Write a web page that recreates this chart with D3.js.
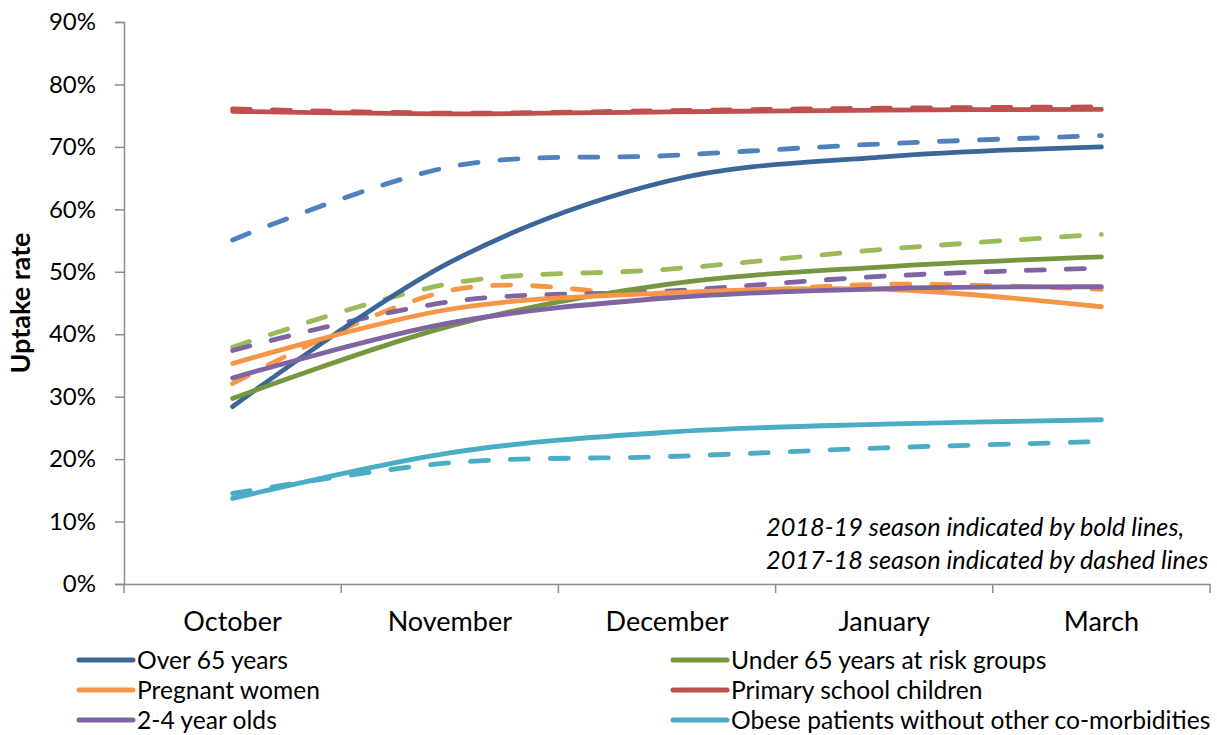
<!DOCTYPE html>
<html>
<head>
<meta charset="utf-8">
<script src="https://cdn.jsdelivr.net/npm/d3@7"></script>
<style>
  html, body { margin: 0; padding: 0; background: #fff; }
  svg { display: block; }
  text { font-family: Lato, "Open Sans", sans-serif; fill: #000; }
</style>
</head>
<body>
<svg id="chart" width="1217" height="735"></svg>
<script>
// ---------- data ----------
const months = ["October", "November", "December", "January", "March"];
const yTicks = [0, 0.1, 0.2, 0.3, 0.4, 0.5, 0.6, 0.7, 0.8, 0.9];

const seriesNames = [
  "Over 65 years",
  "Under 65 years at risk groups",
  "Pregnant women",
  "Primary school children",
  "2-4 year olds",
  "Obese patients without other co-morbidities"
];

// 2018-19 season (bold lines), percent
const over65_1819   = [28.4, 51.5, 64.5, 68.4, 70.0];
const under65_1819  = [29.7, 41.3, 48.0, 50.8, 52.4];
const pregnant_1819 = [35.3, 44.0, 46.6, 47.2, 44.4];
const primary_1819  = [75.7, 75.3, 75.6, 75.9, 76.0];
const toddler_1819  = [33.0, 41.8, 45.8, 47.3, 47.6];
const obese_1819    = [13.7, 21.0, 24.3, 25.6, 26.3];

// 2017-18 season (dashed lines), percent
const over65_1718   = [55.1, 66.8, 68.6, 70.5, 71.8];
const under65_1718  = [37.9, 48.1, 50.4, 53.6, 56.0];
const pregnant_1718 = [32.1, 47.0, 46.3, 48.0, 47.2];
const primary_1718  = [76.1, 75.4, 75.8, 76.2, 76.4];
const toddler_1718  = [37.4, 45.2, 46.9, 49.3, 50.6];
const obese_1718    = [14.5, 19.4, 20.4, 21.8, 22.8];

const boldColors   = ["#3b6698", "#779640", "#f79646", "#c0504d", "#8064a2", "#4bacc6"];
const dashedColors = ["#4f81bd", "#9bbb59", "#f79646", "#c0504d", "#8064a2", "#4bacc6"];

const bold   = [over65_1819, under65_1819, pregnant_1819, primary_1819, toddler_1819, obese_1819];
const dashed = [over65_1718, under65_1718, pregnant_1718, primary_1718, toddler_1718, obese_1718];

// ---------- layout ----------
const svg = d3.select("#chart");
const mLeft = 124, mRight = 1210, mTop = 22, mBottom = 584;

const x = d3.scaleBand().domain(months).range([mLeft, mRight]).padding(0);
const xc = m => x(m) + x.bandwidth() / 2;
const y = d3.scaleLinear().domain([0, 0.9]).range([mBottom, mTop]);

const axisColor = "#8c8c8c";

// y axis
const yAxis = svg.append("g")
  .attr("transform", `translate(${mLeft},0)`)
  .call(d3.axisLeft(y).tickValues(yTicks).tickFormat(d3.format(".0%")).tickSize(9).tickPadding(19));
yAxis.select(".domain").attr("stroke", axisColor).attr("stroke-width", 1.5);
yAxis.selectAll(".tick line").attr("stroke", axisColor).attr("stroke-width", 1.5);
yAxis.selectAll(".tick text").attr("font-size", 24).attr("font-family", "Lato, sans-serif").attr("fill", "#000");

// x axis
const xAxis = svg.append("g")
  .attr("transform", `translate(0,${mBottom})`)
  .call(d3.axisBottom(x).tickSize(0).tickPadding(28));
xAxis.select(".domain").attr("stroke", axisColor).attr("stroke-width", 1.5);
xAxis.selectAll(".tick text").attr("font-size", 27).attr("font-family", "Lato, sans-serif").attr("fill", "#000");
const bounds = months.map(m => x(m)).concat([x(months[months.length - 1]) + x.bandwidth()]);
xAxis.selectAll("line.bound").data(bounds).enter().append("line")
  .attr("class", "bound")
  .attr("x1", d => d).attr("x2", d => d)
  .attr("y1", 0).attr("y2", 9)
  .attr("stroke", axisColor).attr("stroke-width", 1.5);

// axis title
svg.append("text")
  .attr("transform", `translate(30,303) rotate(-90)`)
  .attr("text-anchor", "middle")
  .attr("font-size", 27)
  .attr("font-weight", "bold")
  .text("Uptake rate");

// lines
const line = d3.line()
  .x((d, i) => xc(months[i]))
  .y(d => y(d / 100))
  .curve(d3.curveCatmullRom.alpha(0));

const plot = svg.append("g");
plot.selectAll("path.dashed").data(dashed).enter().append("path")
  .attr("class", "dashed")
  .attr("d", d => line(d))
  .attr("fill", "none")
  .attr("stroke", (d, i) => dashedColors[i])
  .attr("stroke-width", 4.8)
  .attr("stroke-linecap", "round")
  .attr("stroke-dasharray", "18,22");

plot.selectAll("path.bold").data(bold).enter().append("path")
  .attr("class", "bold")
  .attr("d", d => line(d))
  .attr("fill", "none")
  .attr("stroke", (d, i) => boldColors[i])
  .attr("stroke-width", 4.8)
  .attr("stroke-linecap", "round");

// annotation
const note = svg.append("g").attr("font-style", "italic").attr("font-size", 25.3);
note.append("text").attr("x", 766).attr("y", 536).text("2018-19 season indicated by bold lines,");
note.append("text").attr("x", 766).attr("y", 569).text("2017-18 season indicated by dashed lines");

// legend
const legend = svg.append("g");
const colX = [79, 673];
const rowY = [660, 690, 720];
seriesNames.forEach((name, i) => {
  const cx = colX[i % 2], cy = rowY[Math.floor(i / 2)];
  const g = legend.append("g").attr("transform", `translate(${cx},${cy})`);
  g.append("line").attr("x1", 0).attr("x2", 54).attr("y1", 0).attr("y2", 0)
    .attr("stroke", boldColors[i]).attr("stroke-width", 5).attr("stroke-linecap", "round");
  g.append("text").attr("x", 58).attr("y", 0).attr("dy", "0.35em")
    .attr("font-size", 24.6).text(name);
});
</script>
</body>
</html>
